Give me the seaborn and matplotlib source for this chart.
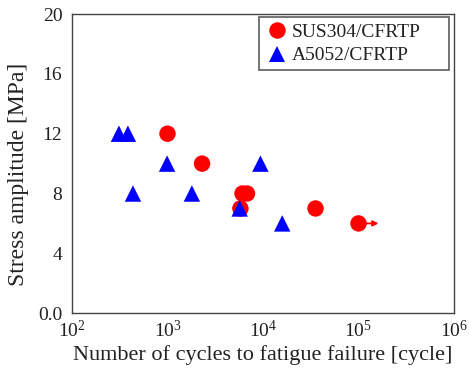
import matplotlib
matplotlib.use("Agg")
import matplotlib.pyplot as plt
import seaborn as sns
import pandas as pd
from matplotlib.ticker import LogLocator, MultipleLocator, NullFormatter, FixedLocator

sus_cycles = [1000, 2300, 6100, 6800, 5800, 35500, 100000]
sus_stress = [12, 10, 8, 8, 7, 7, 6]
al_cycles = [310, 385, 990, 435, 1800, 5700, 9400, 15900]
al_stress = [12, 12, 10, 8, 8, 7, 10, 6]
series_names = ["SUS304/CFRTP", "A5052/CFRTP"]
runout_start = 1.16e5
runout_end = 1.62e5
runout_stress = 6

df = pd.DataFrame({
    "cycles": sus_cycles + al_cycles,
    "stress": sus_stress + al_stress,
    "series": [series_names[0]] * len(sus_cycles) + [series_names[1]] * len(al_cycles),
})

sns.set_style("white")
plt.rcParams["font.family"] = ["Liberation Serif", "DejaVu Serif"]
plt.rcParams["mathtext.fontset"] = "custom"
plt.rcParams["mathtext.rm"] = "Liberation Serif"
plt.rcParams["mathtext.it"] = "Liberation Serif"

fig = plt.figure(figsize=(4.69, 3.71), dpi=100)
ax = fig.add_axes([0.1535, 0.156, 0.8145, 0.806])

sns.scatterplot(data=df, x="cycles", y="stress", hue="series", style="series",
                palette={series_names[0]: "#ff0000", series_names[1]: "#0000ff"},
                markers={series_names[0]: "o", series_names[1]: "^"},
                s=140, linewidth=0, ax=ax, zorder=3)

ax.annotate("", xy=(runout_end, runout_stress), xytext=(runout_start, runout_stress),
            arrowprops=dict(arrowstyle="-|>", color="#ff0000", lw=1.3,
                            mutation_scale=8, shrinkA=0, shrinkB=0))

ax.set_xscale("log")
ax.set_xlim(1e2, 1e6)
ax.set_ylim(0, 20)
ax.xaxis.set_major_locator(FixedLocator([1e2, 1e3, 1e4, 1e5, 1e6]))
ax.xaxis.set_minor_locator(LogLocator(base=10, subs=range(2, 10)))
ax.xaxis.set_minor_formatter(NullFormatter())
ax.set_xticklabels([r"$\mathregular{10^{2}}$", r"$\mathregular{10^{3}}$", r"$\mathregular{10^{4}}$",
                    r"$\mathregular{10^{5}}$", r"$\mathregular{10^{6}}$"])
ax.yaxis.set_major_locator(FixedLocator([0, 4, 8, 12, 16, 20]))
ax.set_yticklabels(["0.0", "4", "8", "12", "16", "20"])
ax.yaxis.set_minor_locator(MultipleLocator(2))

ax.tick_params(axis="both", which="both", direction="in", top=False, right=False,
               colors="#333333", labelcolor="#222222")
ax.tick_params(axis="y", which="major", length=5, width=0.8, pad=7, labelsize=14)
ax.tick_params(axis="both", which="minor", length=3, width=0.8)
ax.tick_params(axis="x", which="major", length=5, width=0.8, pad=5, labelsize=14)

for sp in ax.spines.values():
    sp.set_color("#444444")
    sp.set_linewidth(1.0)

ax.set_xlabel("Number of cycles to fatigue failure [cycle]", fontsize=16, color="#222222", labelpad=3)
ax.set_ylabel("Stress amplitude [MPa]", fontsize=17, color="#222222")
ax.yaxis.set_label_coords(-0.112, 0.465)

leg = ax.legend(loc="upper left", bbox_to_anchor=(0.489, 0.0, 0.498, 0.99), mode="expand",
                fontsize=14, frameon=True, fancybox=False,
                edgecolor="#333333", borderpad=0.3, handletextpad=0.1,
                labelspacing=0.32, borderaxespad=0.0, markerscale=1.0,
                handlelength=1.3)
leg.get_frame().set_linewidth(1.2)
for t in leg.get_texts():
    t.set_color("#222222")

fig.savefig("out.png", dpi=100)
